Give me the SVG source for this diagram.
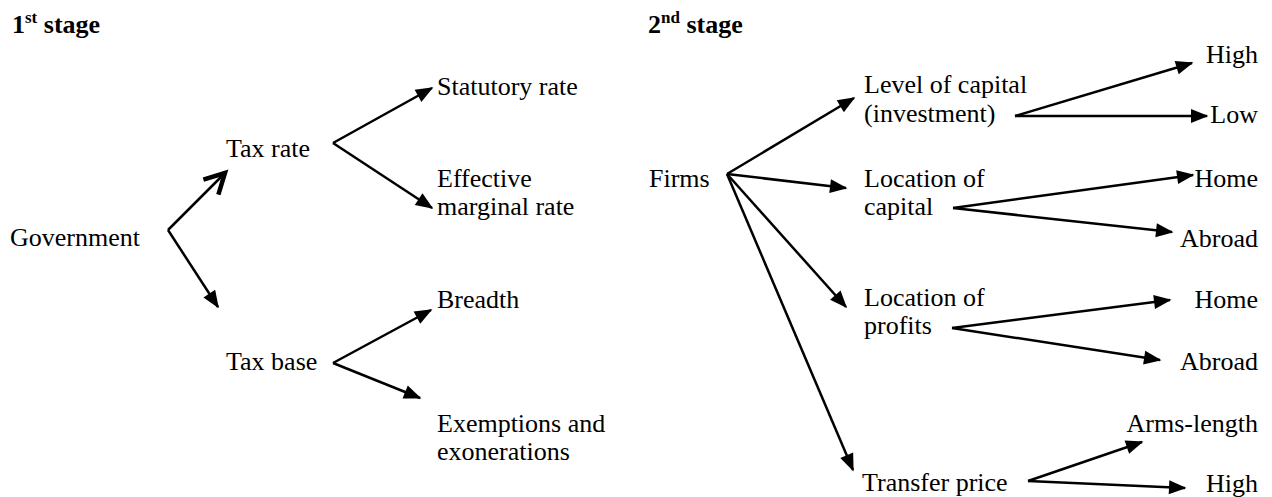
<svg xmlns="http://www.w3.org/2000/svg" width="1272" height="497" viewBox="0 0 1272 497">
<style>
  text { font-family: "Liberation Serif", "Times New Roman", serif; font-size: 26px; fill: #000; }
  .hdr { font-weight: bold; }
  .sup { font-size: 17px; }
  .end { text-anchor: end; }
  .c line { stroke: #000; stroke-width: 2.5; fill: none; }
</style>
<defs>
  <marker id="tri" markerUnits="userSpaceOnUse" markerWidth="20" markerHeight="16" refX="16" refY="7" orient="auto" overflow="visible">
    <path d="M0,0 L17.5,7 L0,14 z" fill="#000"/>
  </marker>
  <marker id="open" markerUnits="userSpaceOnUse" markerWidth="24" markerHeight="24" refX="20" refY="10.6" orient="auto" overflow="visible">
    <path d="M0,0 L20,10.6 L0,21.2" fill="none" stroke="#000" stroke-width="4.5" stroke-linejoin="miter"/>
  </marker>
</defs>

<g id="stage1"><text class="hdr" x="12" y="33">1<tspan class="sup" dy="-10">st</tspan><tspan dy="10"> stage</tspan></text></g>
<g id="stage2"><text class="hdr" x="648" y="33">2<tspan class="sup" dy="-10">nd</tspan><tspan dy="10"> stage</tspan></text></g>

<g id="government"><text x="10" y="246">Government</text></g>
<g id="tax-rate"><text x="226" y="157">Tax rate</text></g>
<g id="statutory-rate"><text x="437" y="95">Statutory rate</text></g>
<g id="effective-marginal-rate"><text x="437" y="187">Effective</text><text x="437" y="215">marginal rate</text></g>
<g id="tax-base"><text x="226" y="370">Tax base</text></g>
<g id="breadth"><text x="437" y="308">Breadth</text></g>
<g id="exemptions"><text x="437" y="432">Exemptions and</text><text x="437" y="460">exonerations</text></g>

<g id="firms"><text x="649" y="187">Firms</text></g>
<g id="level-of-capital"><text x="864" y="93">Level of capital</text><text x="864" y="122">(investment)</text></g>
<g id="level-high"><text class="end" x="1258" y="63">High</text></g>
<g id="level-low"><text class="end" x="1258" y="123">Low</text></g>
<g id="location-of-capital"><text x="864" y="187">Location of</text><text x="864" y="215">capital</text></g>
<g id="capital-home"><text class="end" x="1258" y="187">Home</text></g>
<g id="capital-abroad"><text class="end" x="1258" y="247">Abroad</text></g>
<g id="location-of-profits"><text x="864" y="306">Location of</text><text x="864" y="334">profits</text></g>
<g id="profits-home"><text class="end" x="1258" y="308">Home</text></g>
<g id="profits-abroad"><text class="end" x="1258" y="370">Abroad</text></g>
<g id="transfer-price"><text x="862" y="491">Transfer price</text></g>
<g id="arms-length"><text class="end" x="1258" y="432">Arms-length</text></g>
<g id="transfer-high"><text class="end" x="1258" y="492">High</text></g>

<g id="connectors" class="c">
  <line x1="168" y1="230" x2="225" y2="173" marker-end="url(#open)"/>
  <line x1="168" y1="230" x2="218" y2="307" marker-end="url(#tri)"/>
  <line x1="333" y1="143" x2="432" y2="88" marker-end="url(#tri)"/>
  <line x1="333" y1="143" x2="432" y2="208" marker-end="url(#tri)"/>
  <line x1="333" y1="363" x2="431" y2="310" marker-end="url(#tri)"/>
  <line x1="333" y1="363" x2="420" y2="398" marker-end="url(#tri)"/>

  <line x1="727" y1="174" x2="854" y2="98" marker-end="url(#tri)"/>
  <line x1="727" y1="174" x2="846" y2="188" marker-end="url(#tri)"/>
  <line x1="727" y1="174" x2="846" y2="307" marker-end="url(#tri)"/>
  <line x1="727" y1="174" x2="853" y2="470" marker-end="url(#tri)"/>

  <line x1="1015" y1="116" x2="1192" y2="63" marker-end="url(#tri)"/>
  <line x1="1015" y1="116" x2="1207" y2="116" marker-end="url(#tri)"/>
  <line x1="953" y1="208" x2="1193" y2="175" marker-end="url(#tri)"/>
  <line x1="953" y1="208" x2="1172" y2="232" marker-end="url(#tri)"/>
  <line x1="952" y1="328" x2="1170" y2="300" marker-end="url(#tri)"/>
  <line x1="952" y1="328" x2="1160" y2="360" marker-end="url(#tri)"/>
  <line x1="1028" y1="481" x2="1142" y2="442" marker-end="url(#tri)"/>
  <line x1="1028" y1="481" x2="1185" y2="488" marker-end="url(#tri)"/>
</g>
</svg>
